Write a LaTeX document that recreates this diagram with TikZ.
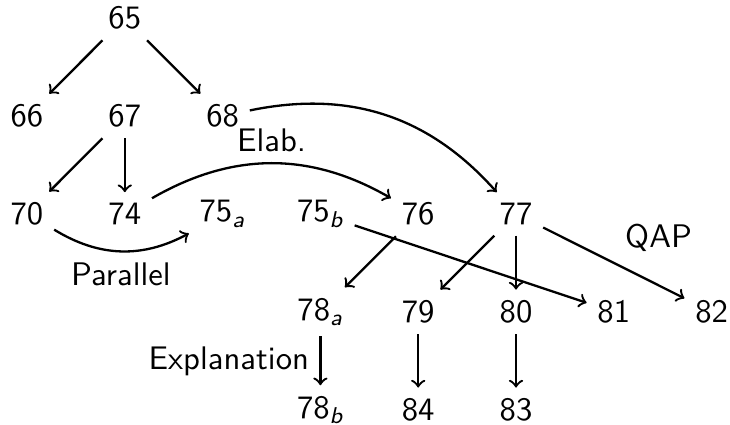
\documentclass[tikz,border=0pt]{standalone}
\usepackage{amsmath}
\usepackage{tikz}
\usetikzlibrary{positioning}
\renewcommand{\familydefault}{\sfdefault}
\tikzset{>=to,every node/.style={font=\sffamily\fontsize{10.6}{12.7}\selectfont},
 rel/.style={->,line width=0.75pt}}

\begin{document}
\begin{tikzpicture}[x=31.75pt,y=31.8pt]
\useasboundingbox (-0.276,0.184) rectangle (7.188,-4.153);
\foreach \n/\x/\y/\lab in {65/1/0/65,66/0/1/66,67/1/1/67,68/2/1/68,
 70/0/2/70,74/1/2/74,75a/2/2/75$_{\text{\itshape a}}$,75b/3/2/75$_{\text{\itshape b}}$,
 76/4/2/76,77/5/2/77,78a/3/3/78$_{\text{\itshape a}}$,79/4/3/79,80/5/3/80,81/6/3/81,82/7/3/82,
 78b/3/4/78$_{\text{\itshape b}}$,84/4/4/84,83/5/4/83}
 {\node (n\n) at (\x,-\y) {\lab};}
\draw[rel] (n65) -- (n66);
\draw[rel] (n65) -- (n68);
\draw[rel] (n67) -- (n70);
\draw[rel] (n67) -- (n74);
\draw[rel] (n68) to[bend left=30] (n77);
\draw[rel] (n74) to[bend left=30] node[above]{Elab.} (n76);
\draw[rel] (n70) to[bend right=30] node[below]{Parallel} (n75a);
\draw[rel] (n75b) -- (n81);
\draw[rel] (n76) -- (n78a);
\draw[rel] (n77) -- (n79);
\draw[rel] (n77) -- (n80);
\draw[rel] (n77) -- node[above right]{QAP} (n82);
\draw[rel] (n78a) -- node[left]{Explanation} (n78b);
\draw[rel] (n79) -- (n84);
\draw[rel] (n80) -- (n83);
\end{tikzpicture}
\end{document}
